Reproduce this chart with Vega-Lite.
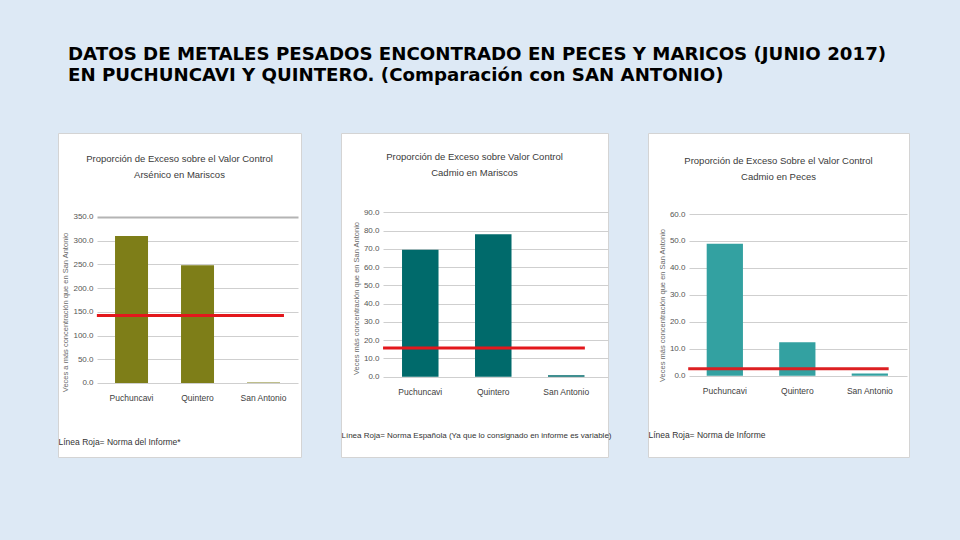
{
  "$schema": "https://vega.github.io/schema/vega-lite/v6.json",
  "background": "#dde9f5",
  "padding": {"left": 57, "top": 45, "right": 52, "bottom": 82},
  "autosize": {"type": "pad"},
  "bounds": "flush",
  "title": {
    "text": ["DATOS DE METALES PESADOS ENCONTRADO EN PECES Y MARICOS (JUNIO 2017)", "EN PUCHUNCAVI Y QUINTERO. (Comparación con SAN ANTONIO)"],
    "anchor": "start",
    "frame": "group",
    "dx": 10,
    "font": "DejaVu Sans",
    "fontSize": 18.2,
    "fontWeight": "bold",
    "color": "#000000",
    "lineHeight": 21,
    "offset": 47
  },
  "datasets": {
    "barras": [
      {"grafico": "A", "sitio": "Puchuncavi", "valor": 310},
      {"grafico": "A", "sitio": "Quintero", "valor": 248},
      {"grafico": "A", "sitio": "San Antonio", "valor": 1.0},
      {"grafico": "B", "sitio": "Puchuncavi", "valor": 69.5},
      {"grafico": "B", "sitio": "Quintero", "valor": 78.0},
      {"grafico": "B", "sitio": "San Antonio", "valor": 0.8},
      {"grafico": "C", "sitio": "Puchuncavi", "valor": 49.0},
      {"grafico": "C", "sitio": "Quintero", "valor": 12.4},
      {"grafico": "C", "sitio": "San Antonio", "valor": 0.8}
    ],
    "normas": [
      {"grafico": "A", "norma": 142.5},
      {"grafico": "B", "norma": 15.7},
      {"grafico": "C", "norma": 2.6}
    ]
  },
  "spacing": 40,
  "hconcat": [
    {
      "width": 243,
      "height": 324,
      "view": {"fill": "white", "stroke": "#d4d4d4"},
      "title": {"text": ["Proporción de Exceso sobre el Valor Control", "Arsénico en Mariscos"], "offset": -46},
      "layer": [
        {
          "data": {"name": "barras"},
          "transform": [{"filter": "datum.grafico === 'A'"}],
          "mark": {"type": "bar", "color": "#7e7e18"},
          "encoding": {
            "x": {
              "field": "sitio", "type": "nominal",
              "scale": {"domain": ["Puchuncavi", "Quintero", "San Antonio"], "paddingInner": 0.5, "paddingOuter": 0.591, "align": 0.731},
              "axis": {"offset": -74, "title": "Línea Roja= Norma del Informe*"}
            },
            "y": {
              "field": "valor", "type": "quantitative",
              "scale": {"domain": [-156, 527], "nice": false, "zero": false},
              "axis": {
                "values": [0, 50, 100, 150, 200, 250, 300, 350],
                "tickSize": -201, "labelPadding": 205, "offset": -39,
                "tickColor": {"condition": {"test": "datum.value === 350", "value": "#b4b4b4"}, "value": "#cfcfcf"},
                "tickWidth": {"condition": {"test": "datum.value === 350", "value": 2}, "value": 1},
                "title": "Veces a más concentración que en San Antonio", "titleY": 179
              }
            }
          }
        },
        {
          "data": {"name": "normas"},
          "transform": [{"filter": "datum.grafico === 'A'"}],
          "mark": {"type": "rule", "color": "#e3171c", "strokeWidth": 3},
          "encoding": {
            "x": {"datum": "Puchuncavi", "type": "nominal", "bandPosition": -0.55},
            "x2": {"datum": "San Antonio", "bandPosition": 1.12},
            "y": {"field": "norma", "type": "quantitative"}
          }
        }
      ]
    },
    {
      "width": 267,
      "height": 324,
      "view": {"fill": "white", "stroke": "#d4d4d4"},
      "title": {"text": ["Proporción de Exceso sobre Valor Control", "Cadmio en Mariscos"], "offset": -44},
      "layer": [
        {
          "data": {"name": "barras"},
          "transform": [{"filter": "datum.grafico === 'B'"}],
          "mark": {"type": "bar", "color": "#006a6b"},
          "encoding": {
            "x": {
              "field": "sitio", "type": "nominal",
              "scale": {"domain": ["Puchuncavi", "Quintero", "San Antonio"], "paddingInner": 0.5, "paddingOuter": 0.579, "align": 0.722},
              "axis": {"offset": -80, "title": "Línea Roja= Norma Española (Ya que lo consignado en informe es variable)", "titleFontSize": 8}
            },
            "y": {
              "field": "valor", "type": "quantitative",
              "scale": {"domain": [-43.96, 133.4], "nice": false, "zero": false},
              "axis": {"values": [0, 10, 20, 30, 40, 50, 60, 70, 80, 90], "tickSize": -225, "labelPadding": 229, "offset": -42, "title": "Veces más concentración que en San Antonio", "titleY": 165}
            }
          }
        },
        {
          "data": {"name": "normas"},
          "transform": [{"filter": "datum.grafico === 'B'"}],
          "mark": {"type": "rule", "color": "#e3171c", "strokeWidth": 3},
          "encoding": {
            "x": {"datum": "Puchuncavi", "type": "nominal", "bandPosition": -0.52},
            "x2": {"datum": "San Antonio", "bandPosition": 1.01},
            "y": {"field": "norma", "type": "quantitative"}
          }
        }
      ]
    },
    {
      "width": 261,
      "height": 324,
      "view": {"fill": "white", "stroke": "#d4d4d4"},
      "title": {"text": ["Proporción de Exceso Sobre el Valor Control", "Cadmio en Peces"], "offset": -48},
      "layer": [
        {
          "data": {"name": "barras"},
          "transform": [{"filter": "datum.grafico === 'C'"}],
          "mark": {"type": "bar", "color": "#33a1a1"},
          "encoding": {
            "x": {
              "field": "sitio", "type": "nominal",
              "scale": {"domain": ["Puchuncavi", "Quintero", "San Antonio"], "paddingInner": 0.5, "paddingOuter": 0.55, "align": 0.736},
              "axis": {"offset": -81, "title": "Línea Roja= Norma de Informe"}
            },
            "y": {
              "field": "valor", "type": "quantitative",
              "scale": {"domain": [-30.17, 90.06], "nice": false, "zero": false},
              "axis": {"values": [0, 10, 20, 30, 40, 50, 60], "tickSize": -218, "labelPadding": 222, "offset": -41, "title": "Veces más concentración que en San Antonio", "titleY": 172}
            }
          }
        },
        {
          "data": {"name": "normas"},
          "transform": [{"filter": "datum.grafico === 'C'"}],
          "mark": {"type": "rule", "color": "#dd1f22", "strokeWidth": 3},
          "encoding": {
            "x": {"datum": "Puchuncavi", "type": "nominal", "bandPosition": -0.51},
            "x2": {"datum": "San Antonio", "bandPosition": 1.02},
            "y": {"field": "norma", "type": "quantitative"}
          }
        }
      ]
    }
  ],
  "resolve": {"scale": {"x": "independent", "y": "independent"}},
  "config": {
    "font": "Liberation Sans",
    "title": {"anchor": "middle", "frame": "group", "fontSize": 9.5, "fontWeight": "normal", "color": "#3a3a3a", "lineHeight": 16, "font": "Liberation Sans"},
    "axisY": {"grid": false, "domain": false, "ticks": true, "tickCount": 20, "tickColor": "#cfcfcf", "tickWidth": 1, "format": ".1f", "labelOverlap": false, "labelFontSize": 8, "labelColor": "#555555", "titleFontSize": 7.5, "titleColor": "#6a6a6a", "titleFontWeight": "normal", "titlePadding": 3},
    "axisX": {"grid": false, "domain": false, "ticks": false, "labelAngle": 0, "labelPadding": 10, "labelFontSize": 8.5, "labelColor": "#404040", "titleAnchor": "start", "titleAlign": "left", "titleFontSize": 8.5, "titleFontWeight": "normal", "titleColor": "#333333", "titlePadding": 36},
    "axis": {"labelFont": "Liberation Sans", "titleFont": "Liberation Sans"}
  }
}
